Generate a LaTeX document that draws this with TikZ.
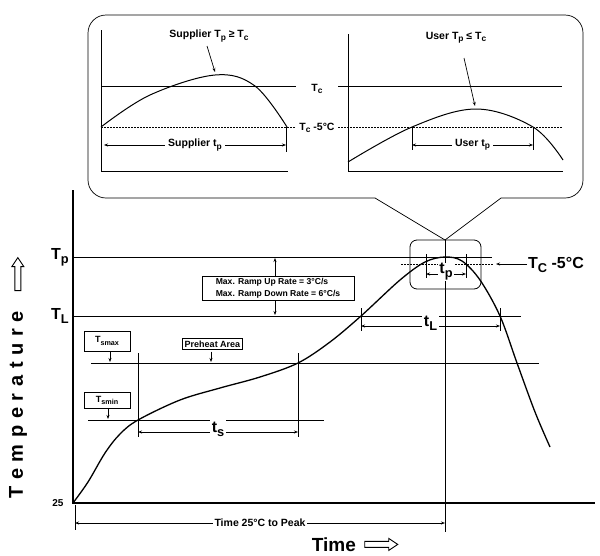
\documentclass[tikz,border=0pt]{standalone}
\usepackage{fontspec}
\setmainfont{Liberation Sans}
\usetikzlibrary{arrows.meta}
\newcommand\sbs[1]{\raisebox{-0.45ex}{\scalebox{0.8}{#1}}}
\begin{document}
\begin{tikzpicture}[x=1pt,y=-1pt,
  ln/.style={line width=0.7pt},
  ax/.style={line width=1.6pt},
  cv/.style={line width=1.3pt},
  dim/.style={line width=0.7pt,{Stealth[length=4pt,width=3pt]}-{Stealth[length=4pt,width=3pt]}},
  arr/.style={line width=0.7pt,-{Stealth[length=4pt,width=3pt]}},
  dot/.style={line width=0.7pt,dash pattern=on 1.5pt off 1.5pt},
  lab/.style={font=\bfseries\fontsize{10.5}{12}\selectfont,inner sep=1pt},
  big/.style={font=\bfseries\fontsize{16}{17}\selectfont,inner sep=1pt},
  bx/.style={draw,line width=0.6pt,font=\bfseries\fontsize{9}{10}\selectfont,inner sep=2pt,fill=white}]
\useasboundingbox (0,0) rectangle (600,555);
% callout
\coordinate (cg1) at (375,198); \coordinate (cg2) at (501,198); \coordinate (vt) at (445,240);
\draw[ln,rounded corners=18pt] (cg1) -- (88,198) -- (88,15) -- (583,15) -- (583,198) -- (cg2);
\draw[ln] (cg1) -- (vt) -- (cg2);
% left inset
\draw[ln] (101,30) -- (101,171) -- (288,171);
\draw[ln] (101,86) -- (296,86);
\draw[dot] (101,127.5) -- (296,127.5);
\draw[cv,line width=1pt] plot[smooth,tension=0.6] coordinates {(101,127)(150,95)(215,75)(255,86)(287,127)};
\draw[ln] (286,127) -- (286,152);
\draw[dim] (104,145) -- node[lab,fill=white,inner sep=3pt]{Supplier t\sbs{p}} (286,145);
\node[lab] (sl) at (209,36) {Supplier T\sbs{p} ≥ T\sbs{c}};
\draw[arr] (207,46) -- (215,72);
\node[lab] (tcl) at (317,89) {T\sbs{c}};
\node[lab] (tc5) at (317,128) {T\sbs{c} -5°C};
% right inset
\draw[ln] (348,34) -- (348,171) -- (563,171);
\draw[ln] (338,86) -- (562,86);
\draw[dot] (338,127.5) -- (562,127.5);
\draw[cv,line width=1pt] plot[smooth,tension=0.6] coordinates {(348,162)(412,127)(476,109)(533,127)(563,160)};
\draw[ln] (412,127) -- (412,150); \draw[ln] (533,127) -- (533,150);
\draw[dim] (412,145) -- node[lab,fill=white,inner sep=3pt]{User t\sbs{p}} (533,145);
\node[lab] (ul) at (456,38) {User T\sbs{p} ≤ T\sbs{c}};
\draw[arr] (464,58) -- (475,106);
% main axes
\draw[ax] (73,190) -- (73,503) -- (595,503);
\node[font=\bfseries\fontsize{10}{11}\selectfont] (n25) at (58,503) {25};
% horizontal lines
\draw[ln] (73,257) -- (492,257);
\draw[ln] (73,316) -- (521,316);
\draw[ln] (91,363) -- (539,363);
\draw[ln] (88,420) -- (324,420);
\node[big,anchor=east] (tpl) at (70,257) {T\sbs{p}};
\node[big,anchor=east] (tll) at (70,316) {T\sbs{L}};
% peak vertical
\draw[ln] (vt) -- (445,532);
% boxes
\node[bx,minimum width=46pt,minimum height=20pt] (tsmax) at (107,341) {T\sbs{smax}};
\node[bx,minimum width=46pt,minimum height=16pt] (tsmin) at (107,400.5) {T\sbs{smin}};
\node[bx] (pre) at (212.5,344) {Preheat Area};
\draw[arr] (110,351) -- (110,362);
\draw[arr] (108,408.5) -- (108,419);
\draw[arr] (211,351.5) -- (211,362);
\node[bx,align=left,font=\bfseries\fontsize{8.6}{12}\selectfont,minimum width=152pt] (ramp) at (278,288) {Max. Ramp Up Rate = 3°C/s\\Max. Ramp Down Rate = 6°C/s};
\draw[arr] (ramp.north -| 275,0) -- (275,258);
\draw[arr] (ramp.south -| 275,0) -- (275,315);
% ts
\draw[ln] (138,353) -- (138,437); \draw[ln] (298,353) -- (298,437);
\draw[dim] (138,432) -- node[big,fill=white,inner sep=2pt,yshift=3pt]{t\sbs{s}} (298,432);
% small box at peak
\draw[line width=0.8pt,rounded corners=7pt] (410,240) rectangle (481,289);
\draw[dot] (401,264) -- (494,264);
\draw[arr] (527,264) -- (496,264);
\node[big,anchor=west] (tcm) at (527,265) {T\sbs{C} -5°C};
\draw[ln] (426,254) -- (426,278); \draw[ln] (466,254) -- (466,278);
\draw[dim] (426,274) -- node[big,fill=white,inner sep=1pt,yshift=2pt]{t\sbs{p}} (466,274);
% tL
\draw[ln] (361,308) -- (361,331); \draw[ln] (500,308) -- (500,331);
\draw[dim] (361,326) -- node[big,fill=white,inner sep=2pt,yshift=3pt]{t\sbs{L}} (500,326);
% main curve
\draw[cv] plot[smooth,tension=0.55] coordinates {(73,503)(88,482)(105,453)(120,434)(138,420)(180,400)(220,388)(260,377)(298,363)(330,342)(361,316)(400,280)(425,262)(445,257)(462,261)(480,280)(500,316)(517,363)(535,412)(550,447)};
% time dimension
\draw[ln] (75,505) -- (75,530); \draw[ln] (445,505) -- (445,532);
\draw[dim] (75,523) -- node[lab,fill=white,inner sep=2pt]{Time 25°C to Peak} (445,523);
\node[font=\bfseries\fontsize{19}{20}\selectfont] (time) at (355,545) {Time \,\raisebox{1pt}{\tikz[x=1pt,y=1pt]\draw[line width=0.9pt] (0,2)--(24,2)--(24,-1)--(33,5)--(24,11)--(24,8)--(0,8)--cycle;}};
\node[rotate=90,font=\bfseries\fontsize{20}{21}\selectfont] (temp) at (18,378) {T\,\,e\,\,m\,\,p\,\,e\,\,r\,\,a\,\,t\,\,u\,\,r\,\,e\quad\raisebox{-1.5pt}{\tikz[x=1pt,y=1pt]\draw[line width=0.9pt] (0,2)--(24,2)--(24,-1)--(33,5)--(24,11)--(24,8)--(0,8)--cycle;}};
\end{tikzpicture}
\end{document}
